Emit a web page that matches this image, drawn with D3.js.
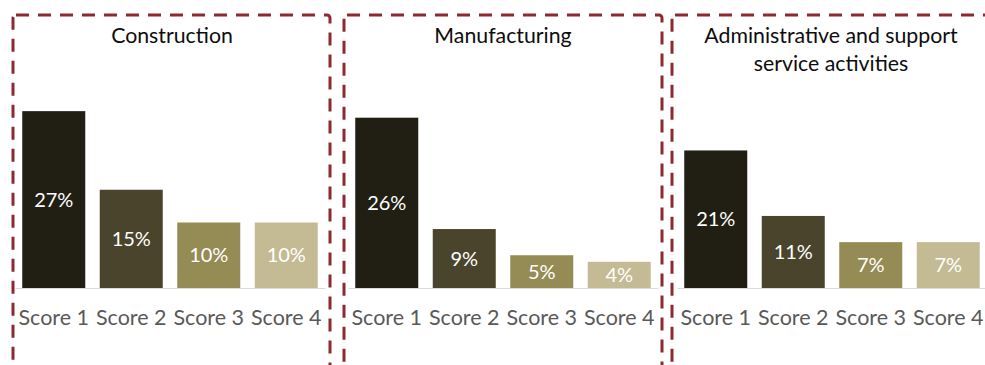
<!DOCTYPE html>
<html>
<head>
<meta charset="utf-8">
<script src="https://cdn.jsdelivr.net/npm/d3@7/dist/d3.min.js"></script>
<style>
  html, body { margin: 0; padding: 0; background: #fff; }
  svg { display: block; }
  text { font-family: Lato, "Open Sans", sans-serif; }
</style>
</head>
<body>
<svg id="chart" width="985" height="365"></svg>
<script>
// Share of firms by score, per sector
const categories = ["Score 1", "Score 2", "Score 3", "Score 4"];
const sectors = ["Construction", "Manufacturing", "Administrative and support service activities"];
const construction = [27, 15, 10, 10];
const manufacturing = [26, 9, 5, 4];
const administrative = [21, 11, 7, 7];
const seriesValues = [construction, manufacturing, administrative];
const barColors = ["#211E13", "#4A442D", "#958B54", "#C4BB94"];

// Layout
const frameLeft = [13, 344, 672];
const frameWidth = 318;
const plotLeft = [15, 348, 677];
const plotWidth = 310;
const baseline = 288;
const borderColor = "#8C2A2F";
const fontStack = "Lato, 'Open Sans', sans-serif";

const svg = d3.select("#chart");

const x = d3.scaleBand().domain(categories).range([0, plotWidth]).paddingInner(0.187).paddingOuter(0.0935);
const y = d3.scaleLinear().domain([0, 30]).range([baseline, 91.5]);

sectors.forEach((name, i) => {
  // dashed frame, open at the bottom
  svg.append("rect")
    .attr("x", frameLeft[i]).attr("y", 15)
    .attr("width", frameWidth - (i === 0 ? 1 : 0)).attr("height", 420)
    .attr("rx", 3)
    .attr("fill", "none")
    .attr("stroke", borderColor)
    .attr("stroke-width", 3)
    .attr("stroke-dasharray", "13 9");

  // title, wrapped to the frame width
  const cx = frameLeft[i] + frameWidth / 2;
  const titleSize = 21.3;
  const title = svg.append("text")
    .attr("text-anchor", "middle")
    .attr("font-size", titleSize)
    .attr("fill", "#0D0D0D");
  const words = name.split(" ");
  let line = [], lines = [];
  const probe = svg.append("text").attr("font-size", titleSize).style("font-family", fontStack);
  words.forEach(w => {
    const test = line.concat(w).join(" ");
    probe.text(test);
    if (probe.node().getComputedTextLength() > 275 && line.length) {
      lines.push(line.join(" "));
      line = [w];
    } else {
      line.push(w);
    }
  });
  lines.push(line.join(" "));
  probe.remove();
  lines.forEach((l, k) => {
    title.append("tspan").attr("x", cx).attr("y", 43 + k * 28).text(l);
  });

  const g = svg.append("g").attr("transform", `translate(${plotLeft[i]},0)`);
  const data = categories.map((c, k) => ({ c, v: seriesValues[i][k], color: barColors[k] }));

  g.selectAll("rect.bar").data(data).join("rect")
    .attr("class", "bar")
    .attr("x", d => x(d.c))
    .attr("width", x.bandwidth())
    .attr("y", d => y(d.v))
    .attr("height", d => baseline - y(d.v))
    .attr("fill", d => d.color);

  // category axis
  const axis = g.append("g")
    .attr("transform", `translate(0,${baseline})`)
    .call(d3.axisBottom(x).tickSize(0).tickPadding(0));
  axis.select(".domain").attr("stroke", "#D9D9D9").attr("stroke-width", 1.2);
  axis.selectAll("text")
    .attr("dy", null)
    .attr("y", 37)
    .attr("font-size", 21.5)
    .attr("fill", "#595959")
    .style("font-family", fontStack);

  // value labels inside bars
  g.selectAll("text.val").data(data).join("text")
    .attr("class", "val")
    .attr("x", d => x(d.c) + x.bandwidth() / 2)
    .attr("y", d => (y(d.v) + baseline) / 2)
    .attr("dy", "0.35em")
    .attr("text-anchor", "middle")
    .attr("font-size", 20)
    .attr("fill", "#FFFFFF")
    .text(d => d.v + "%");
});
</script>
</body>
</html>
